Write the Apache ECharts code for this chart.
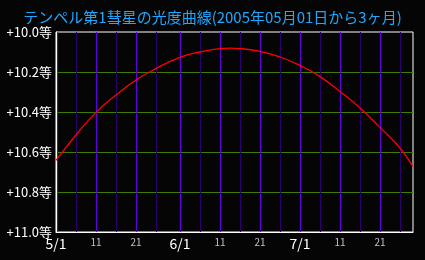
<!DOCTYPE html>
<html><head><meta charset="utf-8">
<script src="https://cdn.jsdelivr.net/npm/echarts@6/dist/echarts.min.js"></script>
<style>html,body{margin:0;padding:0;background:#050505;}#c{width:425px;height:260px;}</style>
</head><body><div id="c"></div>
<script>
// Days since 2005-05-01 and visual magnitude
const days = [0, 5, 10, 15, 20, 25, 31, 36, 41, 43.5, 46, 51, 56, 61, 66, 71, 76, 81, 86, 89.2];
const mags = [10.642, 10.515, 10.402, 10.315, 10.240, 10.183, 10.127, 10.100, 10.083, 10.081, 10.083, 10.097, 10.125, 10.167, 10.223, 10.297, 10.380, 10.477, 10.580, 10.672];
// vertical grid lines: 1, 11, 21 (bright) and 6, 16, 26 (dark) of each month
const brightDays = [0, 10, 20, 31, 41, 51, 61, 71, 81];
const darkDays = [5, 15, 25, 36, 46, 56, 66, 76, 86];
const labelDays = [0, 10, 20, 31, 41, 51, 61, 71, 81];
const labelTexts = ['5/1', '11', '21', '6/1', '11', '21', '7/1', '11', '21'];
const yMin = 10.0, yMax = 11.0;
const title = 'テンペル第1彗星の光度曲線(2005年05月01日から3ヶ月)';

const font = '"Noto Sans CJK JP", sans-serif';
const PIX = 0.125; // half-pixel nudge (in days) so 1px lines render crisply
function vlines(list, color) {
  const data = [];
  list.forEach(d => { const x = d + PIX + (d === 0 ? 0.25 : 0); data.push([x, yMin], [x, yMax], [x, '-']); });
  return {
    type: 'line', data: data, symbol: 'none', silent: true, z: 1,
    connectNulls: false, animation: false,
    itemStyle: {color: color},
    lineStyle: {color: color, width: 1}
  };
}
const chart = echarts.init(document.getElementById('c'), null, {renderer: 'canvas'});
chart.setOption({
  backgroundColor: '#050505',
  animation: false,
  title: {
    text: title, left: 'center', top: 5,
    textStyle: {color: '#20a8ff', fontSize: 15, fontWeight: 'normal', fontFamily: font}
  },
  grid: {left: 56, top: 32, right: 12, bottom: 28, show: true, borderColor: '#ffffff', borderWidth: 1, backgroundColor: 'transparent'},
  xAxis: {
    type: 'value', min: 0, max: 89.25,
    axisLine: {show: true, lineStyle: {color: '#ffffff', width: 1}},
    axisTick: {show: false},
    splitLine: {show: false},
    axisLabel: {
      customValues: labelDays, margin: 5,
      formatter: function (v) {
        const i = labelDays.indexOf(v);
        const t = i >= 0 ? labelTexts[i] : '';
        return t.indexOf('/') >= 0 ? '{b|' + t + '}' : '{s|' + t + '}';
      },
      rich: {
        b: {color: '#ffffff', fontSize: 14, fontFamily: font},
        s: {color: '#c0c0c0', fontSize: 10, fontFamily: font}
      }
    }
  },
  yAxis: {
    type: 'value', inverse: true, min: yMin, max: yMax, interval: 0.2,
    axisLine: {show: true, lineStyle: {color: '#ffffff', width: 1}},
    axisTick: {show: false},
    splitLine: {show: true, showMinLine: false, showMaxLine: false, lineStyle: {color: '#3c7c00', width: 1}},
    axisLabel: {
      color: '#ffffff', fontSize: 13, fontFamily: font, margin: 4,
      formatter: function (v) { return '+' + v.toFixed(1) + '等'; }
    }
  },
  series: [
    vlines(darkDays, '#2a0070'),
    vlines(brightDays, '#6000e0'),
    {
      type: 'line', smooth: true, symbol: 'none',
      data: days.map((d, i) => [d, mags[i]]),
      lineStyle: {color: '#ff0000', width: 1.3},
      z: 5
    }
  ]
});
</script></body></html>
